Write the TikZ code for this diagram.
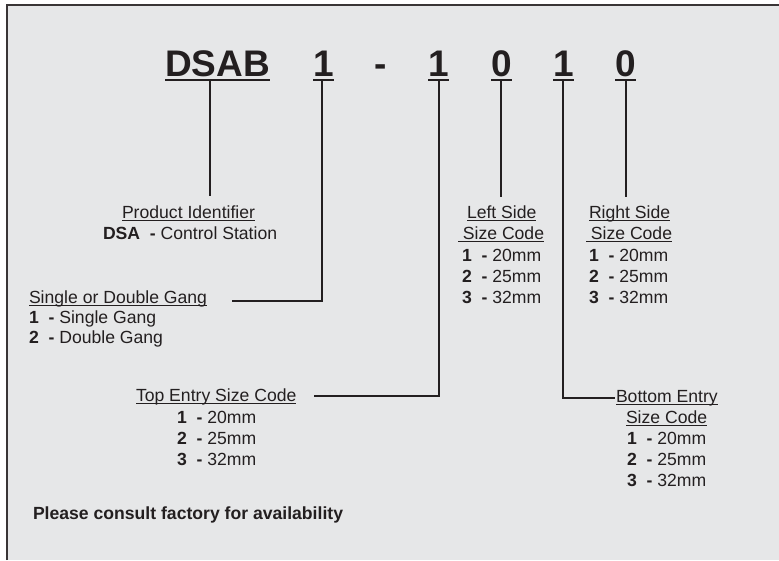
\documentclass[tikz,border=0pt]{standalone}
\usepackage{fontspec}
\setmainfont{Liberation Sans}
\newcommand\bodyfont{\fontsize{17.6}{21}\selectfont}
\newcommand\titlefont{\fontsize{37}{40}\selectfont\bfseries}
\definecolor{bgc}{HTML}{E6E7E8}
\definecolor{ink}{HTML}{231F20}
\tikzset{
  txt/.style={anchor=base west, inner sep=0pt, outer sep=0pt, font=\bodyfont, text=ink},
  ttl/.style={anchor=base west, inner sep=0pt, outer sep=0pt, font=\titlefont, text=ink},
  conn/.style={draw=ink, line width=2pt, line join=miter},
  tul/.style={draw=ink, line width=2pt},
  ul/.style={draw=ink, line width=1pt},
}
\begin{document}
\begin{tikzpicture}[x=1pt,y=-1pt]
\useasboundingbox (0,0) rectangle (779,560);
\fill[white] (0,0) rectangle (779,560);
\fill[bgc] (7,5) rectangle (779,560);
\draw[draw=ink!90, line width=1.6pt] (7,560) -- (7,5) -- (779,5);

% title
\node[ttl] (t0) at (165,76) {DSAB};
\node[ttl] (t1) at (313,76) {1};
\node[ttl] (td) at (374,76) {-};
\node[ttl] (t2) at (428,76) {1};
\node[ttl] (t3) at (491,76) {0};
\node[ttl] (t4) at (553,76) {1};
\node[ttl] (t5) at (615,76) {0};
\foreach \n in {t0,t1,t2,t3,t4,t5}
  \draw[tul] ([yshift=-3.5pt]\n.base west) -- ([yshift=-3.5pt]\n.base east);

% labels
\node[txt] (pid) at (122,218) {Product Identifier};
\node[txt] (pid2) at (103,239) {\textbf{DSA}\ \ \textbf{-} Control Station};

\node[txt] (sdg) at (29,303) {Single or Double Gang};
\node[txt] (sdg1) at (29,323) {\textbf{1}\ \ \textbf{-} Single Gang};
\node[txt] (sdg2) at (29,343) {\textbf{2}\ \ \textbf{-} Double Gang};

\node[txt] (ls) at (467,218) {Left Side};
\node[txt] (ls2) at (458,239) {\ Size Code};
\node[txt] (ls3) at (462,261) {\textbf{1}\ \ \textbf{-} 20mm};
\node[txt] (ls4) at (462,282) {\textbf{2}\ \ \textbf{-} 25mm};
\node[txt] (ls5) at (462,303) {\textbf{3}\ \ \textbf{-} 32mm};

\node[txt] (rs) at (589,218) {Right Side};
\node[txt] (rs2) at (586,239) {\ Size Code};
\node[txt] (rs3) at (589,261) {\textbf{1}\ \ \textbf{-} 20mm};
\node[txt] (rs4) at (589,282) {\textbf{2}\ \ \textbf{-} 25mm};
\node[txt] (rs5) at (589,303) {\textbf{3}\ \ \textbf{-} 32mm};

\node[txt] (te) at (136,401) {Top Entry Size Code};
\node[txt] (te1) at (177,423) {\textbf{1}\ \ \textbf{-} 20mm};
\node[txt] (te2) at (177,444) {\textbf{2}\ \ \textbf{-} 25mm};
\node[txt] (te3) at (177,465) {\textbf{3}\ \ \textbf{-} 32mm};

\node[txt] (be) at (616,402) {Bottom Entry\ };
\node[txt] (be2) at (626,423) {Size Code};
\node[txt] (be3) at (627,444) {\textbf{1}\ \ \textbf{-} 20mm};
\node[txt] (be4) at (627,465) {\textbf{2}\ \ \textbf{-} 25mm};
\node[txt] (be5) at (627,486) {\textbf{3}\ \ \textbf{-} 32mm};

\node[txt, font=\bodyfont\bfseries] (note) at (33,519) {Please consult factory for availability};

\foreach \n in {pid,sdg,ls,ls2,rs,rs2,te,be,be2}
  \draw[ul] ([yshift=-2.5pt]\n.base west) -- ([yshift=-2.5pt]\n.base east);

% connectors
\coordinate (s0) at (210,79.5);  \coordinate (e0) at (210,196);
\coordinate (s1) at (322,79.5);  \coordinate (k1) at (322,301); \coordinate (e1) at (232,301);
\coordinate (s2) at (439,79.5);  \coordinate (k2) at (439,396); \coordinate (e2) at (314,396);
\coordinate (s3) at (501,79.5);  \coordinate (e3) at (501,197);
\coordinate (s4) at (563,79.5);  \coordinate (k4) at (563,398); \coordinate (e4) at (615,398);
\coordinate (s5) at (626,79.5);  \coordinate (e5) at (626,197);
\draw[conn] (s0) -- (e0);
\draw[conn] (s1) -- (k1) -- (e1);
\draw[conn] (s2) -- (k2) -- (e2);
\draw[conn] (s3) -- (e3);
\draw[conn] (s4) -- (k4) -- (e4);
\draw[conn] (s5) -- (e5);
\end{tikzpicture}
\end{document}
